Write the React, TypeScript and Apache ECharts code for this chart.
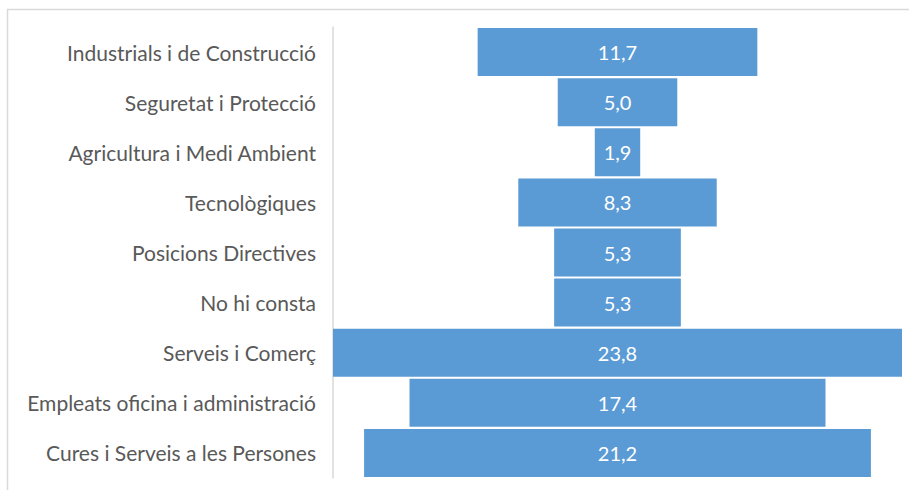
import React, { useEffect, useRef } from "react";
import * as echarts from "echarts";

const categories = [
  "Industrials i de Construcció",
  "Seguretat i Protecció",
  "Agricultura i Medi Ambient",
  "Tecnològiques",
  "Posicions Directives",
  "No hi consta",
  "Serveis i Comerç",
  "Empleats oficina i administració",
  "Cures i Serveis a les Persones",
];
const values = [11.7, 5.0, 1.9, 8.3, 5.3, 5.3, 23.8, 17.4, 21.2];

export default function App() {
  const ref = useRef<HTMLDivElement>(null);
  useEffect(() => {
    if (!ref.current) return;
    const chart = echarts.init(ref.current, undefined, { renderer: "svg" });
    const maxVal = Math.max(...values);
    const offsets = values.map((v) => (maxVal - v) / 2);
    chart.setOption({
      animation: false,
      grid: { left: 333, right: 7, top: 27, bottom: 12, containLabel: false },
      graphic: [
        {
          type: "rect",
          shape: { x: 7.5, y: 9.5, width: 1000, height: 1000 },
          style: { fill: "none", stroke: "#D9D9D9", lineWidth: 1.5 },
          silent: true,
        },
      ],
      xAxis: { type: "value", min: 0, max: maxVal, show: false },
      yAxis: {
        type: "category",
        data: categories,
        inverse: true,
        axisLine: { show: true, lineStyle: { color: "#D9D9D9", width: 1.5 } },
        axisTick: { show: false },
        axisLabel: {
          margin: 17,
          color: "#595959",
          fontSize: 21,
          fontFamily: "Lato",
        },
      },
      series: [
        {
          type: "bar",
          stack: "f",
          data: offsets,
          itemStyle: { color: "transparent" },
          barWidth: 48,
          silent: true,
        },
        {
          type: "bar",
          stack: "f",
          data: values,
          barWidth: 48,
          itemStyle: { color: "#5B9BD5" },
          label: {
            show: true,
            position: "inside",
            color: "#FFFFFF",
            fontSize: 20,
            fontFamily: "Lato",
            formatter: (p: any) => Number(p.value).toFixed(1).replace(".", ","),
          },
        },
      ],
    });
    return () => chart.dispose();
  }, []);
  return (
    <div
      ref={ref}
      style={{ position: "absolute", left: 0, top: 0, width: 909, height: 490, background: "#fff" }}
    />
  );
}
